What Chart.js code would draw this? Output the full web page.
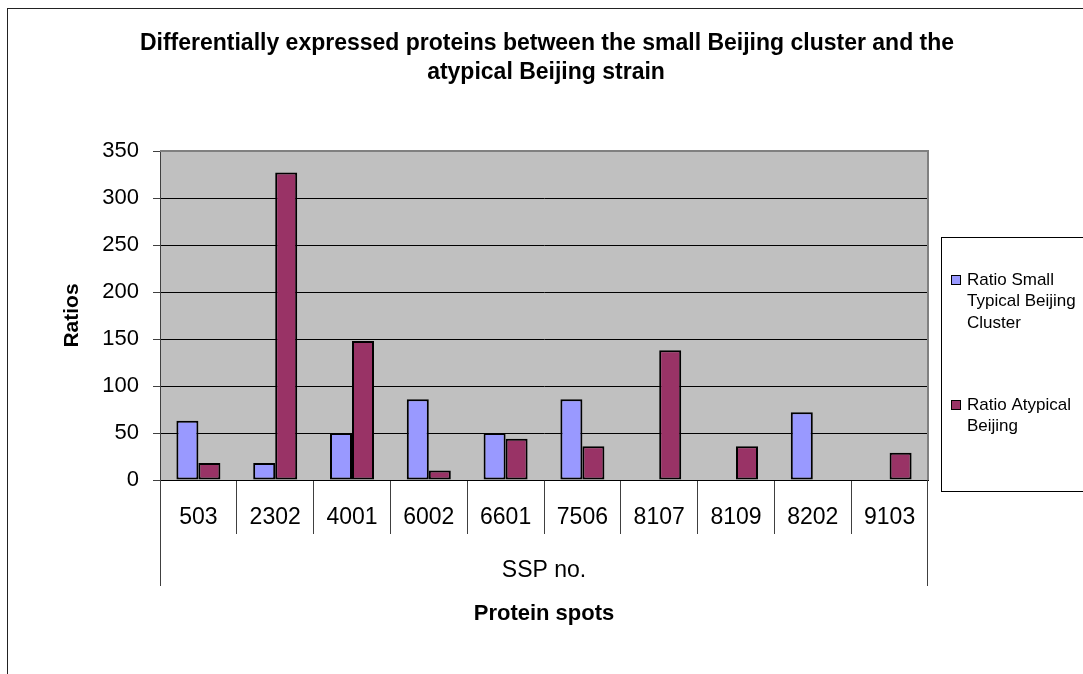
<!DOCTYPE html>
<html>
<head>
<meta charset="utf-8">
<script src="https://cdn.jsdelivr.net/npm/chart.js@4.4.1/dist/chart.umd.min.js"></script>
<style>
  body { margin: 0; background: #ffffff; }
</style>
</head>
<body>
<canvas id="myChart" width="1083" height="674"></canvas>
<script>
var spots = ["503", "2302", "4001", "6002", "6601", "7506", "8107", "8109", "8202", "9103"];
var smallTypical = [63, 18, 50, 86, 50, 86, null, null, 72, null];
var atypical = [18, 327, 148, 10, 44, 36, 138, 36, null, 29];
var yTicks = [0, 50, 100, 150, 200, 250, 300, 350];

var titleLines = [
  "Differentially expressed proteins between the small Beijing cluster and the",
  "atypical Beijing strain",
];
var legendItems = [
  { lines: ["Ratio Small", "Typical Beijing", "Cluster"], color: "#9999ff", y: 280 },
  { lines: ["Ratio Atypical", "Beijing"], color: "#993366", y: 405 },
];

// frame, plot background, legend and the second category level
var excelLook = {
  id: "excelLook",
  beforeDraw: function (chart) {
    var ctx = chart.ctx;
    var a = chart.chartArea;
    ctx.save();
    ctx.fillStyle = "#c0c0c0";
    ctx.fillRect(a.left, a.top, a.right - a.left, a.bottom - a.top);
    ctx.strokeStyle = "#222222";
    ctx.lineWidth = 1;
    ctx.strokeRect(7.5, 8.5, 1200, 800);
    ctx.restore();
  },
  afterDraw: function (chart) {
    var ctx = chart.ctx;
    var a = chart.chartArea;
    ctx.save();
    // plot border top / right
    ctx.strokeStyle = "#808080";
    ctx.lineWidth = 2;
    ctx.beginPath();
    ctx.moveTo(a.left, a.top);
    ctx.lineTo(a.right, a.top);
    ctx.lineTo(a.right, a.bottom);
    ctx.stroke();

    // outer lines of the category table
    ctx.strokeStyle = "#404040";
    ctx.lineWidth = 1;
    ctx.beginPath();
    ctx.moveTo(Math.round(a.left) + 0.5, a.bottom);
    ctx.lineTo(Math.round(a.left) + 0.5, 586);
    ctx.moveTo(Math.round(a.right) - 0.5, a.bottom);
    ctx.lineTo(Math.round(a.right) - 0.5, 586);
    ctx.stroke();

    ctx.fillStyle = "#000000";
    ctx.textAlign = "center";
    ctx.textBaseline = "middle";
    ctx.font = "23px Arial, 'Liberation Sans', sans-serif";
    ctx.fillText("SSP no.", (a.left + a.right) / 2, 571);

    // title
    ctx.font = "bold 23px Arial, 'Liberation Sans', sans-serif";
    ctx.fillText(titleLines[0], 547, 44);
    ctx.fillText(titleLines[1], 546, 73);

    // legend
    ctx.strokeStyle = "#000000";
    ctx.strokeRect(941.5, 237.5, 200, 254);
    ctx.textAlign = "left";
    ctx.font = "17px Arial, 'Liberation Sans', sans-serif";
    for (var i = 0; i < legendItems.length; i++) {
      var item = legendItems[i];
      ctx.fillStyle = item.color;
      ctx.fillRect(951, item.y - 4, 9, 9);
      ctx.strokeRect(951.5, item.y - 4.5, 9, 9);
      ctx.fillStyle = "#000000";
      for (var j = 0; j < item.lines.length; j++) {
        ctx.fillText(item.lines[j], 967, item.y + j * 21.5);
      }
    }
    ctx.restore();
  },
};

var ctx = document.getElementById("myChart").getContext("2d");
var myChart = new Chart(ctx, {
  type: "bar",
  data: {
    labels: spots,
    datasets: [
      {
        label: "Ratio Small Typical Beijing Cluster",
        data: smallTypical,
        backgroundColor: "#9999ff",
        borderColor: "#000000",
        borderWidth: 2,
        borderSkipped: false,
      },
      {
        label: "Ratio Atypical Beijing",
        data: atypical,
        backgroundColor: "#993366",
        borderColor: "#000000",
        borderWidth: 2,
        borderSkipped: false,
      },
    ],
  },
  options: {
    responsive: false,
    animation: false,
    datasets: {
      bar: {
        categoryPercentage: 0.573,
        barPercentage: 1,
      },
    },
    layout: {
      padding: { top: 151, right: 155, bottom: 0, left: 0 },
    },
    scales: {
      x: {
        grid: {
          offset: true,
          drawOnChartArea: false,
          tickLength: 54,
          tickColor: "#404040",
        },
        border: { color: "#000000" },
        ticks: {
          padding: -30,
          color: "#000000",
          font: { family: "Arial, 'Liberation Sans', sans-serif", size: 23 },
        },
        title: {
          display: true,
          text: "Protein spots",
          color: "#000000",
          font: { family: "Arial, 'Liberation Sans', sans-serif", size: 22, weight: "bold" },
          padding: { top: 0, bottom: 47 },
        },
        afterFit: function (scale) {
          scale.height = 194;
        },
      },
      y: {
        min: 0,
        max: 350,
        afterBuildTicks: function (scale) {
          scale.ticks = yTicks.map(function (v) {
            return { value: v };
          });
        },
        grid: {
          color: function (c) {
            return c.tick && c.tick.value === 350 ? "#808080" : "#000000";
          },
          tickLength: 7,
          tickColor: "#404040",
        },
        border: { color: "#404040" },
        ticks: {
          padding: 14,
          color: "#000000",
          font: { family: "Arial, 'Liberation Sans', sans-serif", size: 22 },
        },
        title: {
          display: true,
          text: "Ratios",
          color: "#000000",
          font: { family: "Arial, 'Liberation Sans', sans-serif", size: 21, weight: "bold" },
          padding: { top: 60, bottom: 0 },
        },
        afterFit: function (scale) {
          scale.width = 160;
        },
      },
    },
    plugins: {
      legend: { display: false },
      title: { display: false },
      tooltip: { enabled: false },
    },
  },
  plugins: [excelLook],
});
</script>
</body>
</html>
